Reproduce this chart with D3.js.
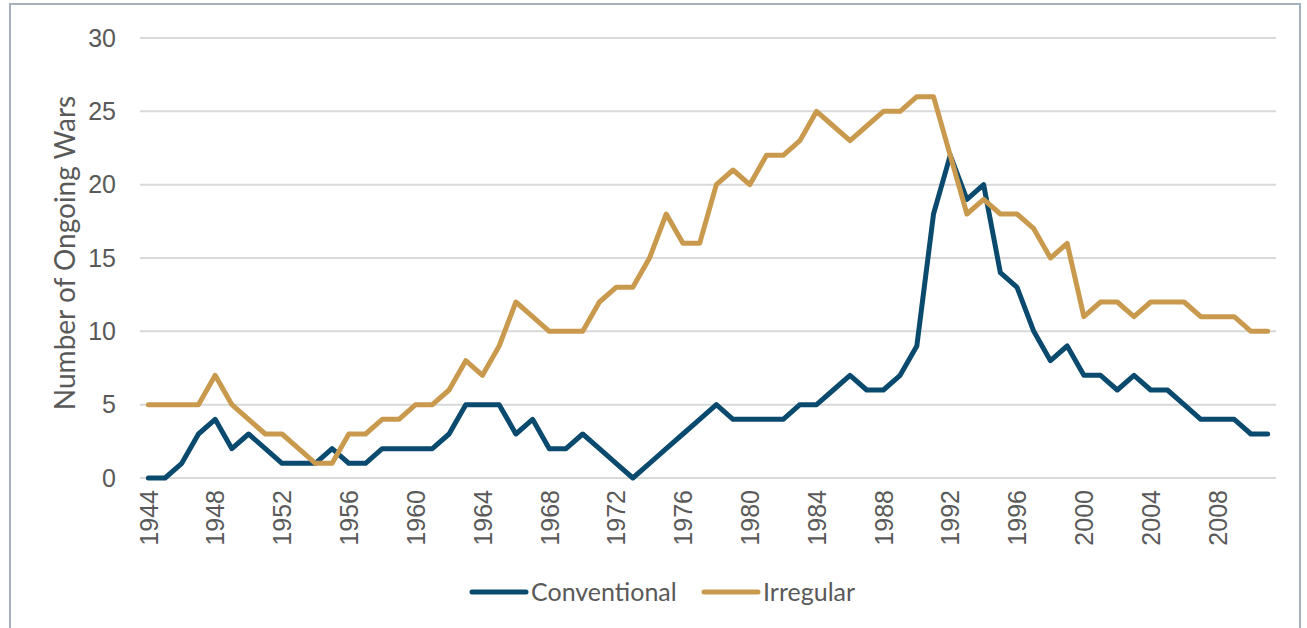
<!DOCTYPE html>
<html>
<head>
<meta charset="utf-8">
<script src="https://cdn.jsdelivr.net/npm/d3@7"></script>
<style>
  body { margin: 0; background: #fff; }
  svg { font-family: Lato, "Open Sans", sans-serif; }
</style>
</head>
<body>
<div id="chart-area"></div>
<script>
// Data
var years = d3.range(1944, 2012);
var conventional = [0,0,1,3,4,2,3,2,1,1, 1,2,1,1,2,2,2,2,3,5, 5,5,3,4,2,2,3,2,1,0,
    1,2,3,4,5,4,4,4,4,5, 5,6,7,6,6,7,9,18,22,19, 20,14,13,10,8,9,7,7,6,7, 6,6,5,4,4,4,3,3];
var irregular = [5,5,5,5,7,5,4,3,3,2, 1,1,3,3,4,4,5,5,6,8, 7,9,12,11,10,10,10,12,13,13,
    15,18,16,16,20,21,20,22,22,23, 25,24,23,24,25,25,26,26,22,18, 19,18,18,17,15,16,11,12,12,11, 12,12,12,11,11,11,10,10];
var yTicks = [0, 5, 10, 15, 20, 25, 30];
var series = [
    {name: "Conventional", values: conventional, color: "#0a4a6e"},
    {name: "Irregular", values: irregular, color: "#c99a4e"}
];

var width = 1307, height = 628;
var margin = {top: 38, right: 31, bottom: 150, left: 140};
var innerW = width - margin.left - margin.right;
var innerH = height - margin.top - margin.bottom;

var svg = d3.select("#chart-area")
    .append("svg")
    .attr("width", width)
    .attr("height", height);

// Frame
svg.append("rect")
    .attr("x", 10).attr("y", 4)
    .attr("width", 1290).attr("height", 630)
    .attr("fill", "none")
    .attr("stroke", "#a7b1bb")
    .attr("stroke-width", 2);

var g = svg.append("g")
    .attr("transform", "translate(" + margin.left + ", " + margin.top + ")");

var x = d3.scalePoint()
    .domain(years)
    .range([0, innerW])
    .padding(0.5);

var y = d3.scaleLinear()
    .domain([0, 30])
    .range([innerH, 0]);

// Gridlines
g.selectAll(".grid")
    .data(yTicks)
    .enter().append("line")
    .attr("class", "grid")
    .attr("x1", 0).attr("x2", innerW)
    .attr("y1", d => y(d)).attr("y2", d => y(d))
    .attr("stroke", "#d9d9d9")
    .attr("stroke-width", 2);

// Y axis
var leftAxis = d3.axisLeft(y).tickValues(yTicks).tickSize(0).tickPadding(24);
g.append("g")
    .attr("class", "left axis")
    .call(leftAxis)
    .call(ax => ax.select(".domain").remove())
    .selectAll("text")
    .attr("font-size", "25px")
    .attr("fill", "#595959");

// X axis
var bottomAxis = d3.axisBottom(x)
    .tickValues(years.filter((d, i) => i % 4 === 0))
    .tickSize(0);
g.append("g")
    .attr("class", "bottom axis")
    .attr("transform", "translate(0, " + innerH + ")")
    .call(bottomAxis)
    .call(ax => ax.select(".domain").remove())
    .selectAll("text")
    .attr("font-size", "25px")
    .attr("fill", "#595959")
    .attr("text-anchor", "end")
    .attr("dy", "0.35em")
    .attr("transform", "translate(0, 12) rotate(-90)")
    .attr("x", 0)
    .attr("y", 0);

// Y Axis Label
g.append("text")
    .attr("transform", "rotate(-90)")
    .attr("x", -innerH / 2 + 5)
    .attr("y", -65)
    .attr("font-size", "28px")
    .attr("text-anchor", "middle")
    .attr("fill", "#595959")
    .text("Number of Ongoing Wars");

// Lines
var line = d3.line()
    .x((d, i) => x(years[i]))
    .y(d => y(d));

g.selectAll(".series")
    .data(series)
    .enter().append("path")
    .attr("class", "series")
    .attr("d", d => line(d.values))
    .attr("fill", "none")
    .attr("stroke", d => d.color)
    .attr("stroke-width", 5)
    .attr("stroke-linejoin", "round")
    .attr("stroke-linecap", "round");

// Legend
var legendX = [470, 702];
var legend = svg.selectAll(".legend")
    .data(series)
    .enter().append("g")
    .attr("class", "legend")
    .attr("transform", (d, i) => "translate(" + legendX[i] + ", 592)");
legend.append("line")
    .attr("x1", 2).attr("x2", 56)
    .attr("stroke", d => d.color)
    .attr("stroke-width", 5)
    .attr("stroke-linecap", "round");
legend.append("text")
    .attr("x", 61)
    .attr("dy", "0.35em")
    .attr("font-size", "25px")
    .attr("fill", "#595959")
    .text(d => d.name);
</script>
</body>
</html>
